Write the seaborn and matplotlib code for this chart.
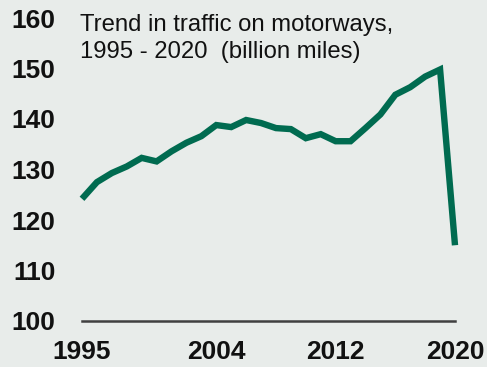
import matplotlib
matplotlib.use("Agg")
import matplotlib.pyplot as plt
import pandas as pd
import seaborn as sns

# Annual motorway traffic, billion vehicle miles
years = list(range(1995, 2021))
traffic = [124.2, 127.5, 129.3, 130.6, 132.3, 131.6, 133.6, 135.3, 136.6, 138.8,
           138.4, 139.8, 139.2, 138.2, 138.0, 136.2, 137.0, 135.6, 135.6, 138.2,
           140.9, 144.8, 146.3, 148.4, 149.8, 115.0]
x_ticks = [1995, 2004, 2012, 2020]
y_ticks = [100, 110, 120, 130, 140, 150, 160]
title = "Trend in traffic on motorways,\n1995 - 2020  (billion miles)"

bg = "#E8ECEA"
green = "#006B50"

sns.set_theme(style="white")
plt.rcParams["font.family"] = ["Liberation Sans", "DejaVu Sans"]

df = pd.DataFrame({"year": years, "traffic": traffic})

W, H = 487, 367
fig = plt.figure(figsize=(W / 100, H / 100), dpi=100, facecolor=bg)
ax = fig.add_axes([82 / W, 1 - 321 / H, (455 - 82) / W, (321 - 18) / H])
ax.set_facecolor(bg)

sns.lineplot(data=df, x="year", y="traffic", ax=ax, color=green,
             linewidth=4.6, solid_joinstyle="miter", solid_capstyle="butt",
             clip_on=False)

ax.set_xlim(1995, 2020)
ax.set_ylim(100, 160)
ax.set_xticks(x_ticks)
ax.set_yticks(y_ticks)
ax.set_xlabel("")
ax.set_ylabel("")

for s in ["top", "right", "left"]:
    ax.spines[s].set_visible(False)
ax.spines["bottom"].set_color("#404040")
ax.spines["bottom"].set_linewidth(1.8)

ax.tick_params(axis="y", length=0, pad=19, labelsize=19)
ax.tick_params(axis="x", length=0, pad=14, labelsize=19)
for lab in ax.get_xticklabels() + ax.get_yticklabels():
    lab.set_fontweight("bold")
    lab.set_color("#111111")

fig.text(80 / W, 1 - 14 / H, title, ha="left", va="top", fontsize=17.2,
         color="#111111", linespacing=1.3)

fig.savefig("out.png", dpi=100, facecolor=bg)
